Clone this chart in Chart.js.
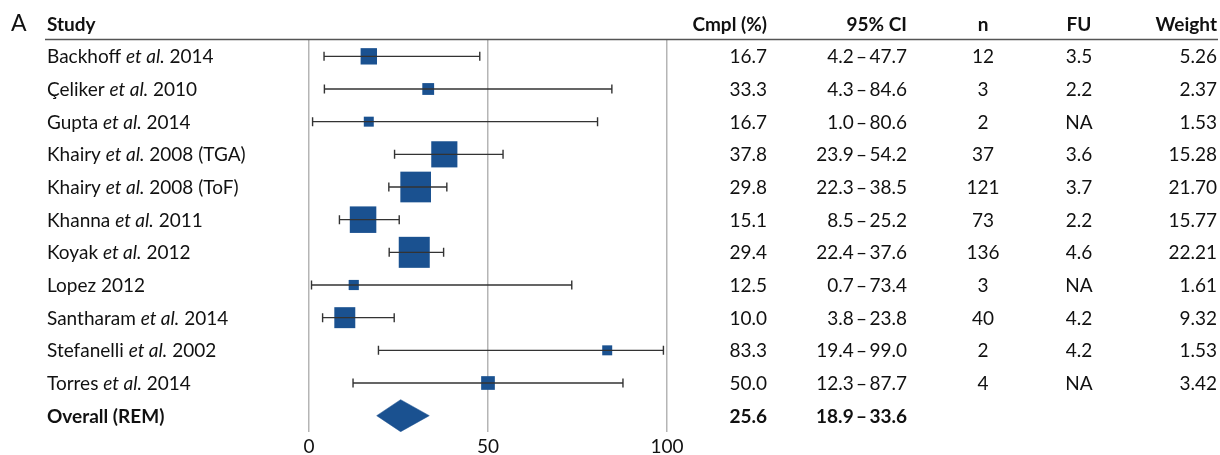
<!DOCTYPE html>
<html>
<head>
<meta charset="utf-8">
<script src="https://cdn.jsdelivr.net/npm/chart.js@4.4.1/dist/chart.umd.min.js"></script>
<style>
  html, body { margin: 0; padding: 0; background: #fff; }
  #wrap { width: 1220px; height: 455px; position: relative; }
</style>
</head>
<body>
<div id="wrap"><canvas id="c" width="1220" height="455"></canvas></div>
<script>
// ---- Data ----
const studies = [
  'Backhoff et al. 2014',
  'Çeliker et al. 2010',
  'Gupta et al. 2014',
  'Khairy et al. 2008 (TGA)',
  'Khairy et al. 2008 (ToF)',
  'Khanna et al. 2011',
  'Koyak et al. 2012',
  'Lopez 2012',
  'Santharam et al. 2014',
  'Stefanelli et al. 2002',
  'Torres et al. 2014'
];
const cmpl    = [16.7, 33.3, 16.7, 37.8, 29.8, 15.1, 29.4, 12.5, 10.0, 83.3, 50.0];
const ciLow   = [4.2, 4.3, 1.0, 23.9, 22.3, 8.5, 22.4, 0.7, 3.8, 19.4, 12.3];
const ciHigh  = [47.7, 84.6, 80.6, 54.2, 38.5, 25.2, 37.6, 73.4, 23.8, 99.0, 87.7];
const nPat    = [12, 3, 2, 37, 121, 73, 136, 3, 40, 2, 4];
const fu      = ['3.5', '2.2', 'NA', '3.6', '3.7', '2.2', '4.6', 'NA', '4.2', '4.2', 'NA'];
const weight  = [5.26, 2.37, 1.53, 15.28, 21.70, 15.77, 22.21, 1.61, 9.32, 1.53, 3.42];
const overallLabel = 'Overall (REM)';
const overallEst  = 25.6;
const overallLow  = 18.9;
const overallHigh = 33.6;
const xTicks = [0, 50, 100];
const headers = ['Study', 'Cmpl (%)', '95% CI', 'n', 'FU', 'Weight'];

// ---- Styling ----
const BLUE = '#1a5190';
const FONT = 'Lato, "Open Sans", sans-serif';
const FS = 19;
const overallRow = studies.length;

const squareData = cmpl.map((v, i) => ({ x: v, y: i }));
const diamondData = [
  { x: overallLow, y: overallRow },
  { x: overallEst, y: overallRow - 0.49 },
  { x: overallHigh, y: overallRow },
  { x: overallEst, y: overallRow + 0.49 },
  { x: overallLow, y: overallRow }
];

function fmtCI(lo, hi) { return lo.toFixed(1) + '\u2009\u2013\u2009' + hi.toFixed(1); }
function squareRadius(ctx) { return (2.5 + 6.05 * Math.sqrt(weight[ctx.dataIndex])) / Math.SQRT2; }

const whiskerPlugin = {
  id: 'whiskers',
  afterDatasetsDraw(chart) {
    const { ctx, scales: { x, y } } = chart;
    ctx.save();
    ctx.strokeStyle = '#333';
    ctx.lineWidth = 1.4;
    for (let i = 0; i < studies.length; i++) {
      const yy = y.getPixelForValue(i);
      const x1 = x.getPixelForValue(ciLow[i]);
      const x2 = x.getPixelForValue(ciHigh[i]);
      ctx.beginPath();
      ctx.moveTo(x1, yy); ctx.lineTo(x2, yy);
      ctx.moveTo(x1, yy - 4.5); ctx.lineTo(x1, yy + 4.5);
      ctx.moveTo(x2, yy - 4.5); ctx.lineTo(x2, yy + 4.5);
      ctx.stroke();
    }
    ctx.restore();
  }
};

const tablePlugin = {
  id: 'table',
  afterDraw(chart) {
    const { ctx, scales: { y } } = chart;
    ctx.save();
    ctx.fillStyle = '#111';
    ctx.textBaseline = 'alphabetic';
    const base = (i) => y.getPixelForValue(i) + 7;
    const col = { label: 47, cmpl: 767, ci: 907, n: 983, fu: 1079, w: 1217 };

    // panel letter
    ctx.font = '23px ' + FONT;
    ctx.textAlign = 'left';
    ctx.fillText('A', 11, 31);

    // headers
    const hy = 31;
    ctx.font = 'bold ' + FS + 'px ' + FONT;
    ctx.textAlign = 'left';  ctx.fillText(headers[0], col.label, hy);
    ctx.textAlign = 'right'; ctx.fillText(headers[1], col.cmpl, hy);
    ctx.fillText(headers[2], col.ci, hy);
    ctx.textAlign = 'center'; ctx.fillText(headers[3], col.n, hy);
    ctx.fillText(headers[4], col.fu, hy);
    ctx.textAlign = 'right'; ctx.fillText(headers[5], col.w, hy);

    // header rule
    ctx.strokeStyle = '#555';
    ctx.lineWidth = 1.5;
    ctx.beginPath();
    ctx.moveTo(45, 39.5); ctx.lineTo(1218, 39.5);
    ctx.stroke();

    // rows
    for (let i = 0; i < studies.length; i++) {
      const by = base(i);
      ctx.textAlign = 'left';
      const name = studies[i];
      const k = name.indexOf('et al.');
      let xx = col.label;
      if (k >= 0) {
        const a = name.slice(0, k), b = 'et al.', c = name.slice(k + 6);
        ctx.font = FS + 'px ' + FONT;
        ctx.fillText(a, xx, by); xx += ctx.measureText(a).width;
        ctx.font = 'italic ' + FS + 'px ' + FONT;
        ctx.fillText(b, xx, by); xx += ctx.measureText(b).width;
        ctx.font = FS + 'px ' + FONT;
        ctx.fillText(c, xx, by);
      } else {
        ctx.font = FS + 'px ' + FONT;
        ctx.fillText(name, xx, by);
      }
      ctx.font = FS + 'px ' + FONT;
      ctx.textAlign = 'right';
      ctx.fillText(cmpl[i].toFixed(1), col.cmpl, by);
      ctx.fillText(fmtCI(ciLow[i], ciHigh[i]), col.ci, by);
      ctx.textAlign = 'center';
      ctx.fillText(String(nPat[i]), col.n, by);
      ctx.fillText(fu[i], col.fu, by);
      ctx.textAlign = 'right';
      ctx.fillText(weight[i].toFixed(2), col.w, by);
    }
    // overall
    const oy = base(overallRow);
    ctx.font = 'bold ' + FS + 'px ' + FONT;
    ctx.textAlign = 'left';
    ctx.fillText(overallLabel, col.label, oy);
    ctx.textAlign = 'right';
    ctx.fillText(overallEst.toFixed(1), col.cmpl, oy);
    ctx.fillText(fmtCI(overallLow, overallHigh), col.ci, oy);
    ctx.restore();
  }
};

new Chart(document.getElementById('c'), {
  type: 'scatter',
  data: {
    datasets: [
      {
        label: 'Studies',
        data: squareData,
        pointStyle: 'rect',
        backgroundColor: BLUE,
        borderColor: BLUE,
        borderWidth: 0,
        pointRadius: squareRadius,
        pointHoverRadius: squareRadius
      },
      {
        label: 'Overall',
        type: 'line',
        data: diamondData,
        showLine: true,
        fill: 'shape',
        backgroundColor: BLUE,
        borderColor: BLUE,
        borderWidth: 0.5,
        pointRadius: 0,
        tension: 0
      }
    ]
  },
  plugins: [whiskerPlugin, tablePlugin],
  options: {
    responsive: false,
    animation: false,
    events: [],
    layout: { padding: { left: 309, right: 553, top: 40, bottom: 0 } },
    plugins: { legend: { display: false }, tooltip: { enabled: false } },
    scales: {
      x: {
        type: 'linear',
        min: 0, max: 100,
        afterBuildTicks: (s) => { s.ticks = xTicks.map(v => ({ value: v })); },
        afterFit: (s) => { s.height = 23; },
        ticks: { color: '#111', font: { family: FONT, size: 19 }, padding: 3 },
        grid: { color: '#b5b5b5', lineWidth: 1.5, drawTicks: false },
        border: { display: false }
      },
      y: {
        type: 'linear',
        min: -0.5, max: 11.5,
        reverse: true,
        display: false
      }
    }
  }
});
</script>
</body>
</html>
